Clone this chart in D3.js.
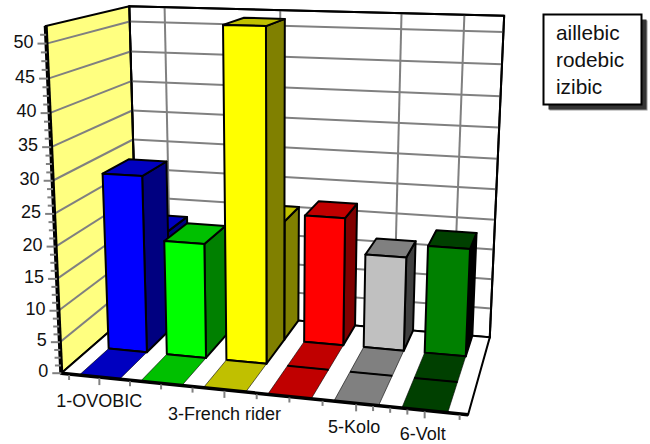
<!DOCTYPE html>
<html>
<head>
<meta charset="utf-8">
<script src="https://cdn.jsdelivr.net/npm/d3@7"></script>
<style>
body { margin: 0; background: #fff; }
text { font-family: "Liberation Sans", sans-serif; fill: #111; }
</style>
</head>
<body>
<script>
// data
var categories = ["1-OVOBIC", "2", "3-French rider", "4", "5-Kolo", "6-Volt"];
var seriesNames = ["aillebic", "rodebic", "izibic"];
var aillebic = [0, 0, 0, 0, 0, 0];
var rodebic = [28.7, 18.6, 52.1, 0, 0, 0];
var izibic = [17, 14, 20, 21.2, 15.5, 17.6];
var yTicks = [0, 5, 10, 15, 20, 25, 30, 35, 40, 45, 50];
var yMinor = [1.25, 2.5, 3.75, 6.25, 7.5, 8.75, 11.25, 12.5, 13.75, 16.25, 17.5, 18.75, 21.25, 22.5, 23.75,
  26.25, 27.5, 28.75, 31.25, 32.5, 33.75, 36.25, 37.5, 38.75, 41.25, 42.5, 43.75, 46.25, 47.5, 48.75, 51.25];
var xMajor = [1, 3, 5, 6];
var xMinor = [0.5, 1.5, 2, 2.5, 3.5, 4, 4.5, 5.25, 5.5, 5.75, 6.5];

var faceColors = [
  { front: "#0000ff", top: "#0000c0", side: "#000080" },
  { front: "#00ff00", top: "#00c000", side: "#008000" },
  { front: "#ffff00", top: "#c0c000", side: "#808000" },
  { front: "#ff0000", top: "#c00000", side: "#800000" },
  { front: "#c0c0c0", top: "#808080", side: "#404040" },
  { front: "#008000", top: "#004000", side: "#000000" }
];

var svgWidth = 650;
var svgHeight = 444;

var svg = d3.select("body").append("svg")
  .attr("width", svgWidth)
  .attr("height", svgHeight)
  .style("display", "block");

// box corners on screen, unit cube (x, y, z) -> pixel, z goes to the back
var anchors = [
  [0, 0, 0, 62, 372], [1, 0, 0, 468, 416], [0, 0, 1, 137, 308], [1, 0, 1, 490, 336],
  [0, 1, 1, 130, 6], [1, 1, 1, 504, 16], [0, 1, 0, 45, 26]
];

// least squares for the 11 numbers of a camera matrix
function solveCamera(pts) {
  var rows = [], rhs = [];
  pts.forEach(function(p) {
    rows.push([p[0], p[1], p[2], 1, 0, 0, 0, 0, -p[3] * p[0], -p[3] * p[1], -p[3] * p[2]]);
    rhs.push(p[3]);
    rows.push([0, 0, 0, 0, p[0], p[1], p[2], 1, -p[4] * p[0], -p[4] * p[1], -p[4] * p[2]]);
    rhs.push(p[4]);
  });
  var n = 11;
  var m = d3.range(n).map(function(i) {
    var r = d3.range(n).map(function(j) { return d3.sum(rows, function(row) { return row[i] * row[j]; }); });
    r.push(d3.sum(rows, function(row, k) { return row[i] * rhs[k]; }));
    return r;
  });
  for (var i = 0; i < n; i++) {
    var best = i;
    for (var k = i + 1; k < n; k++) if (Math.abs(m[k][i]) > Math.abs(m[best][i])) best = k;
    var tmp = m[i]; m[i] = m[best]; m[best] = tmp;
    for (var r = 0; r < n; r++) {
      if (r === i) continue;
      var f = m[r][i] / m[i][i];
      for (var c = i; c <= n; c++) m[r][c] -= f * m[i][c];
    }
  }
  return m.map(function(row, i) { return row[n] / row[i]; });
}
var cam = solveCamera(anchors);

var xScale = d3.scaleLinear().domain([0.37, 6.62]).range([0, 1]);
var yScale = d3.scaleLinear().domain([0, 52.5]).range([0, 1]);
var zScale = d3.scaleLinear().domain([0, 1, 2, 3]).range([0, 0.36, 0.7, 1]);

function project(cat, val, row) {
  var x = xScale(cat), y = yScale(val), z = zScale(row);
  var w = cam[8] * x + cam[9] * y + cam[10] * z + 1;
  return [(cam[0] * x + cam[1] * y + cam[2] * z + cam[3]) / w,
          (cam[4] * x + cam[5] * y + cam[6] * z + cam[7]) / w];
}

var outline = d3.line().curve(d3.curveLinearClosed);
var xLo = xScale.domain()[0], xHi = xScale.domain()[1], yTop = yScale.domain()[1];

function wall(pts, fill) {
  svg.append("path").attr("d", outline(pts)).attr("fill", fill).attr("stroke", "#000").attr("stroke-width", 2);
}
wall([project(xLo, 0, 3), project(xHi, 0, 3), project(xHi, yTop, 3), project(xLo, yTop, 3)], "#fff");
wall([project(xLo, 0, 0), project(xLo, 0, 3), project(xLo, yTop, 3), project(xLo, yTop, 0)], "#ffff80");
wall([project(xLo, 0, 0), project(xHi, 0, 0), project(xHi, 0, 3), project(xLo, 0, 3)], "#fff");

function seg(a, b, color, width) {
  svg.append("line").attr("x1", a[0]).attr("y1", a[1]).attr("x2", b[0]).attr("y2", b[1])
    .attr("stroke", color).attr("stroke-width", width);
}

// grid on the walls
yTicks.slice(1).forEach(function(v) {
  seg(project(xLo, v, 0), project(xLo, v, 3), "#808080", 2);
  seg(project(xLo, v, 3), project(xHi, v, 3), "#808080", 2);
});
xMajor.forEach(function(c) {
  seg(project(c, 0, 3), project(c, yTop, 3), "#808080", 2);
});
seg(project(xLo, yTop, 3), project(xHi, yTop, 3), "#000", 2);
seg(project(xLo, yTop, 3), project(xLo, 0, 3), "#000", 2);
seg(project(xHi, yTop, 3), project(xHi, 0, 3), "#000", 2);

// bars, back row first, left to right
var barHalf = 0.33;
[izibic, rodebic, aillebic].forEach(function(values, idx) {
  var row = 2 - idx;
  values.forEach(function(v, i) {
    var c = i + 1, l = c - barHalf, r = c + barHalf, col = faceColors[i];
    var g = svg.append("g");
    if (v === 0) {
      g.append("path").attr("d", outline([project(l, 0, row), project(r, 0, row), project(r, 0, row + 1), project(l, 0, row + 1)]))
        .attr("fill", col.top).attr("stroke", "#000").attr("stroke-width", 0.6);
      var a = project(l, 0, row + 1), b = project(r, 0, row + 1);
      g.append("line").attr("x1", a[0]).attr("y1", a[1]).attr("x2", b[0]).attr("y2", b[1])
        .attr("stroke", "#000").attr("stroke-width", 2);
      return;
    }
    var faces = [
      { fill: col.side, pts: [project(r, 0, row), project(r, 0, row + 1), project(r, v, row + 1), project(r, v, row)] },
      { fill: col.top, pts: [project(l, v, row), project(r, v, row), project(r, v, row + 1), project(l, v, row + 1)] },
      { fill: col.front, pts: [project(l, 0, row), project(r, 0, row), project(r, v, row), project(l, v, row)] }
    ];
    g.selectAll("path").data(faces).enter().append("path")
      .attr("d", function(d) { return outline(d.pts); })
      .attr("fill", function(d) { return d.fill; })
      .attr("stroke", "#000")
      .attr("stroke-width", 2)
      .attr("stroke-linejoin", "round");
  });
});

// axes
seg(project(xLo, 0, 0), project(xLo, yTop, 0), "#000", 4);
seg(project(xLo, 0, 0), project(xHi, 0, 0), "#000", 3.5);

yTicks.forEach(function(v) {
  var p = project(xLo, v, 0);
  seg([p[0] - 9, p[1]], [p[0], p[1]], "#808080", 2);
  svg.append("text").attr("x", p[0] - 13).attr("y", p[1] + 4)
    .attr("text-anchor", "end").attr("font-size", 18).text(v);
});
yMinor.forEach(function(v) {
  var p = project(xLo, v, 0);
  seg([p[0] - 6, p[1]], [p[0], p[1]], "#808080", 2);
});
xMinor.forEach(function(c) {
  var p = project(c, 0, 0);
  seg([p[0], p[1] + 1], [p[0], p[1] + 6], "#808080", 2);
});
xMajor.forEach(function(c) {
  var p = project(c, 0, 0);
  seg([p[0], p[1] + 1], [p[0], p[1] + 8], "#808080", 2);
  svg.append("text").attr("x", p[0] - (c > 4 ? 2 : 0)).attr("y", p[1] + 30)
    .attr("text-anchor", "middle").attr("font-size", 18).text(categories[c - 1]);
});

// legend
var legend = svg.append("g").attr("transform", "translate(543.5,14.5)");
legend.append("rect").attr("x", 6).attr("y", 6).attr("width", 98).attr("height", 90).attr("fill", "#999");
legend.append("rect").attr("x", 5).attr("y", 5).attr("width", 98).attr("height", 90).attr("fill", "#333");
legend.append("rect").attr("width", 98).attr("height", 90).attr("fill", "#fff").attr("stroke", "#000").attr("stroke-width", 2);
legend.selectAll("text").data(seriesNames).enter().append("text")
  .attr("x", 12.5)
  .attr("y", function(d, i) { return 25 + i * 27.3; })
  .attr("font-size", 20.8)
  .text(function(d) { return d; });
</script>
</body>
</html>
